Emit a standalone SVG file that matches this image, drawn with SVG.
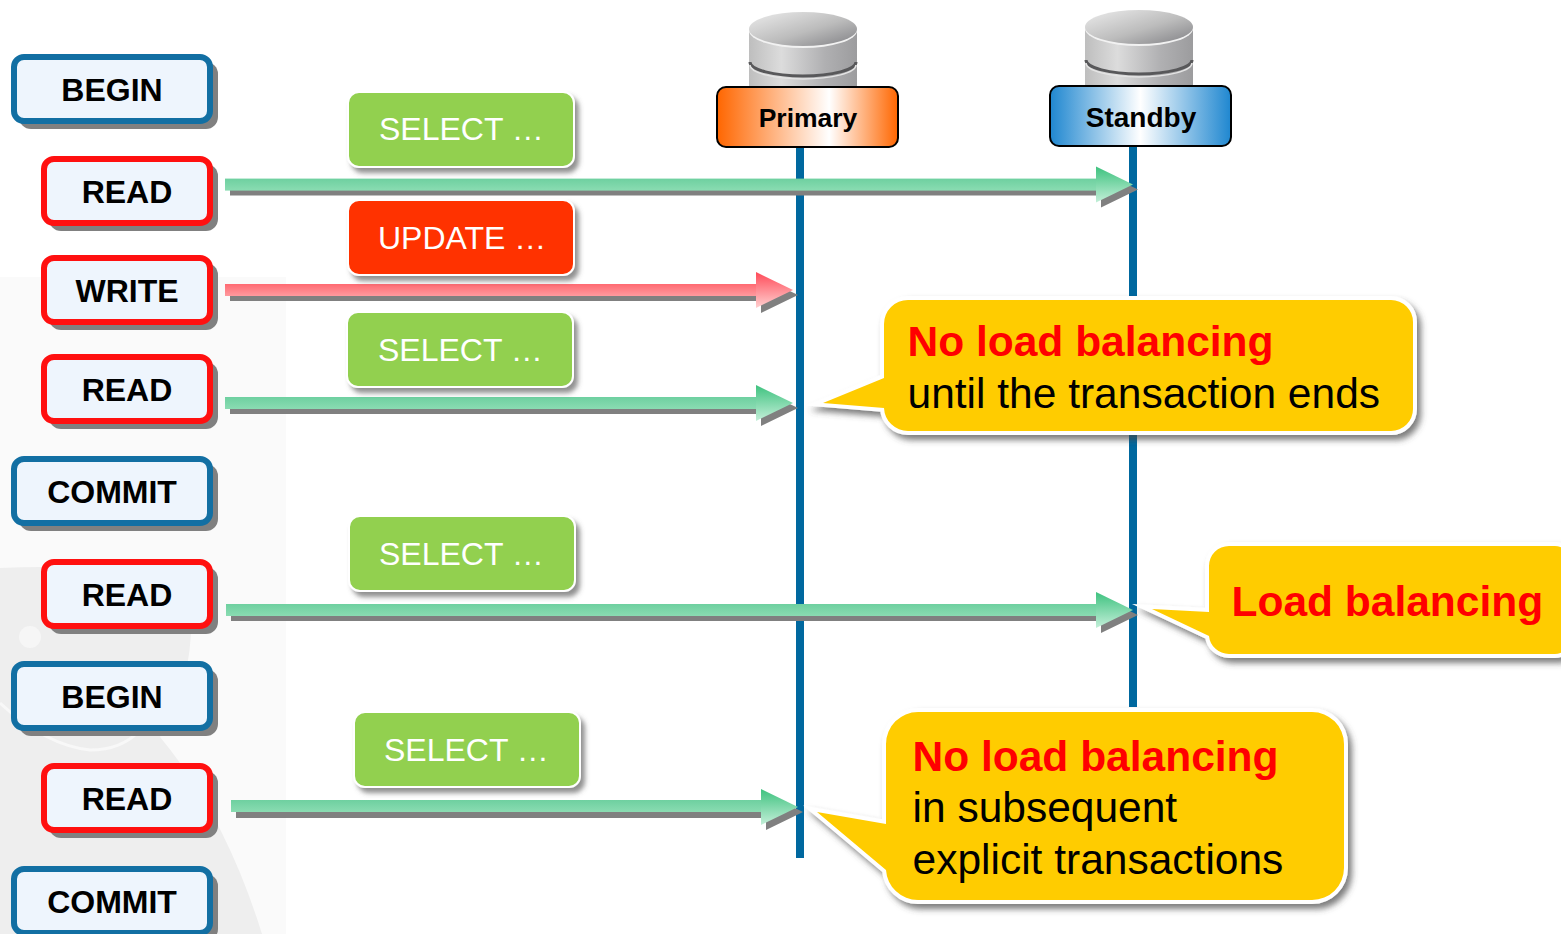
<svg xmlns="http://www.w3.org/2000/svg" width="1561" height="934" viewBox="0 0 1561 934">
<defs>
<style>
text{font-family:"Liberation Sans",Arial,sans-serif}
.tx{stroke-width:6;fill:#eef5fd;rx:10px}
.blue{stroke:#126fa3}
.red{stroke:#ff1010}
.sh{fill:#808080}
.lb{font-weight:700;font-size:32px;fill:#000;text-anchor:middle}
.hd{font-weight:700;fill:#000;text-anchor:middle}
.q{font-size:32px;fill:#fff}
.qb{stroke:#fff;stroke-width:2;filter:url(#soft)}
.life{stroke:#00689f;stroke-width:8;fill:none}
.ash{fill:#808080}
.call{fill:#ffcc00;stroke:#fff;stroke-width:8;paint-order:stroke;stroke-miterlimit:12;stroke-linejoin:miter;filter:url(#soft2)}
.c1{font-size:42.5px;font-weight:700;fill:#ff0000}
.c2{font-size:42.5px;fill:#000}
</style>
<linearGradient id="gs" x1="0" y1="0" x2="0" y2="1"><stop offset="0" stop-color="#6ed0a0"/><stop offset="1" stop-color="#8adcb2"/></linearGradient>
<linearGradient id="gh" x1="0" y1="0" x2="0" y2="1"><stop offset="0" stop-color="#3ec27f"/><stop offset="1" stop-color="#c4efd9"/></linearGradient>
<linearGradient id="rs" x1="0" y1="0" x2="0" y2="1"><stop offset="0" stop-color="#ff6a72"/><stop offset="1" stop-color="#ff9a9e"/></linearGradient>
<linearGradient id="rh" x1="0" y1="0" x2="0" y2="1"><stop offset="0" stop-color="#ff4a58"/><stop offset="1" stop-color="#ffd0d0"/></linearGradient>
<linearGradient id="gp"><stop offset="0" stop-color="#ff6600"/><stop offset=".62" stop-color="#ffffff"/><stop offset="1" stop-color="#ff6600"/></linearGradient>
<linearGradient id="gb"><stop offset="0" stop-color="#1f87d0"/><stop offset=".5" stop-color="#ffffff"/><stop offset="1" stop-color="#1f87d0"/></linearGradient>
<linearGradient id="cb"><stop offset="0" stop-color="#bebebe"/><stop offset=".3" stop-color="#dcdcdc"/><stop offset=".7" stop-color="#b0b0b2"/><stop offset="1" stop-color="#9c9c9e"/></linearGradient>
<linearGradient id="ct" x1="0" y1="0" x2="1" y2="1"><stop offset="0" stop-color="#ececec"/><stop offset=".55" stop-color="#bcbcbc"/><stop offset="1" stop-color="#808084"/></linearGradient>
<filter id="soft" x="-10%" y="-20%" width="125%" height="150%"><feDropShadow dx="4" dy="5" stdDeviation="2.5" flood-color="#555" flood-opacity=".65"/></filter>
<filter id="soft2" x="-10%" y="-15%" width="125%" height="135%"><feDropShadow dx="4" dy="5" stdDeviation="3" flood-color="#444" flood-opacity=".7"/></filter>
<g id="cyl">
<rect x="-54" y="0" width="108" height="62" fill="url(#cb)"/>
<path d="M-53 33A53 14 0 0 0 53 33" fill="none" stroke="#58585a" stroke-width="3"/>
<path d="M-53 36A53 14 0 0 0 53 36" fill="none" stroke="#e4e4e4" stroke-width="1.5"/>
<ellipse cx="0" cy="1.5" rx="54" ry="17.5" fill="#f2f2f2"/>
<ellipse cx="0" cy="0" rx="54" ry="17" fill="url(#ct)"/>
</g>
</defs>

<g id="background">
<rect width="1561" height="934" fill="#ffffff"/>
<rect x="0" y="277" width="286" height="657" fill="#fafafa"/>
<path d="M0 568Q120 562 190 590Q198 675 160 737Q225 815 262 934H0Z" fill="#eeeeee"/>
<path d="M0 703Q45 745 90 750Q122 750 140 730" fill="none" stroke="#f8f8f8" stroke-width="3"/>
<circle cx="30" cy="637" r="11" fill="#f6f6f6"/>
</g>

<g id="connectors">
<line id="life-primary" class="life" x1="800" y1="148" x2="800" y2="858"/>
<line id="life-standby" class="life" x1="1133" y1="147" x2="1133" y2="707"/>

<g id="arrow-read-1" transform="translate(0 .6)">
<path class="ash" d="M230 183H1101V171L1138 189L1101 207V195H230Z"/>
<path fill="url(#gh)" d="M1096 166L1133 184L1096 202Z"/><rect x="225" y="178" width="871" height="12" fill="url(#gs)"/>
</g>
<g id="arrow-write">
<path class="ash" d="M230 289H761V277L798 295L761 313V301H230Z"/>
<path fill="url(#rh)" d="M756 272L793 290L756 308Z"/><rect x="225" y="284" width="531" height="12" fill="url(#rs)"/>
</g>
<g id="arrow-read-2">
<path class="ash" d="M230 402H761V390L798 408L761 426V414H230Z"/>
<path fill="url(#gh)" d="M756 385L793 403L756 421Z"/><rect x="225" y="397" width="531" height="12" fill="url(#gs)"/>
</g>
<g id="arrow-read-3">
<path class="ash" d="M231 609H1101V597L1138 615L1101 633V621H231Z"/>
<path fill="url(#gh)" d="M1096 592L1133 610L1096 628Z"/><rect x="226" y="604" width="870" height="12" fill="url(#gs)"/>
</g>
<g id="arrow-read-4">
<path class="ash" d="M236 806H766V794L803 812L766 830V818H236Z"/>
<path fill="url(#gh)" d="M761 789L798 807L761 825Z"/><rect x="231" y="800" width="530" height="12" fill="url(#gs)"/>
</g>
</g>

<g id="primary">
<use href="#cyl" x="803" y="29"/>
<rect x="717" y="87" width="181" height="60" rx="9" fill="url(#gp)" stroke="#000" stroke-width="2"/>
<text class="hd" x="808" y="127" font-size="26.5">Primary</text>
</g>
<g id="standby">
<use href="#cyl" x="1139" y="27"/>
<rect x="1050" y="86" width="181" height="60" rx="9" fill="url(#gb)" stroke="#000" stroke-width="2"/>
<text class="hd" x="1141" y="127" font-size="28">Standby</text>
</g>

<g id="begin-1"><rect class="sh" x="19" y="62" width="199" height="67" rx="12"/><rect class="tx blue" x="14" y="57" width="196" height="64"/><text class="lb" x="112" y="101">BEGIN</text></g>
<g id="read-1"><rect class="sh" x="49" y="164" width="169" height="67" rx="12"/><rect class="tx red" x="44" y="159" width="166" height="64"/><text class="lb" x="127" y="203">READ</text></g>
<g id="write"><rect class="sh" x="49" y="263" width="169" height="67" rx="12"/><rect class="tx red" x="44" y="258" width="166" height="64"/><text class="lb" x="127" y="302">WRITE</text></g>
<g id="read-2"><rect class="sh" x="49" y="362" width="169" height="67" rx="12"/><rect class="tx red" x="44" y="357" width="166" height="64"/><text class="lb" x="127" y="401">READ</text></g>
<g id="commit-1"><rect class="sh" x="19" y="464" width="199" height="67" rx="12"/><rect class="tx blue" x="14" y="459" width="196" height="64"/><text class="lb" x="112" y="503">COMMIT</text></g>
<g id="read-3"><rect class="sh" x="49" y="567" width="169" height="67" rx="12"/><rect class="tx red" x="44" y="562" width="166" height="64"/><text class="lb" x="127" y="606">READ</text></g>
<g id="begin-2"><rect class="sh" x="19" y="669" width="199" height="67" rx="12"/><rect class="tx blue" x="14" y="664" width="196" height="64"/><text class="lb" x="112" y="708">BEGIN</text></g>
<g id="read-4"><rect class="sh" x="49" y="771" width="169" height="67" rx="12"/><rect class="tx red" x="44" y="766" width="166" height="64"/><text class="lb" x="127" y="810">READ</text></g>
<g id="commit-2"><rect class="sh" x="19" y="874" width="199" height="67" rx="12"/><rect class="tx blue" x="14" y="869" width="196" height="64"/><text class="lb" x="112" y="913">COMMIT</text></g>

<g id="select-1"><rect class="qb" x="348" y="92" width="226" height="75" rx="11" fill="#92d050"/><text class="q" x="379" y="140">SELECT …</text></g>
<g id="update"><rect class="qb" x="348" y="200" width="226" height="75" rx="11" fill="#ff3300"/><text class="q" x="378" y="249">UPDATE …</text></g>
<g id="select-2"><rect class="qb" x="347" y="312" width="226" height="75" rx="11" fill="#92d050"/><text class="q" x="378" y="361">SELECT …</text></g>
<g id="select-3"><rect class="qb" x="349" y="516" width="226" height="75" rx="11" fill="#92d050"/><text class="q" x="379" y="565">SELECT …</text></g>
<g id="select-4"><rect class="qb" x="354" y="712" width="226" height="75" rx="11" fill="#92d050"/><text class="q" x="384" y="761">SELECT …</text></g>

<g id="callout-1">
<path class="call" d="M908 300H1391A22 22 0 0 1 1413 322V409A22 22 0 0 1 1391 431H908A24 24 0 0 1 884 408L823 403L884 378V324A24 24 0 0 1 908 300Z"/>
<text class="c1" x="907.5" y="356">No load balancing</text>
<text class="c2" x="907.5" y="408">until the transaction ends</text>
</g>
<g id="callout-2">
<path class="call" d="M1229 546H1555A14 14 0 0 1 1569 560V640A14 14 0 0 1 1555 654H1229A20 20 0 0 1 1209 636L1152 609L1209 612V566A20 20 0 0 1 1229 546Z"/>
<text class="c1" x="1231.5" y="616">Load balancing</text>
</g>
<g id="callout-3">
<path class="call" d="M918 712H1312A32 32 0 0 1 1344 744V868A32 32 0 0 1 1312 900H918A32 32 0 0 1 886 870L817 812L886 824V744A32 32 0 0 1 918 712Z"/>
<text class="c1" x="912.5" y="771">No load balancing</text>
<text class="c2" x="912.5" y="822">in subsequent</text>
<text class="c2" x="912.5" y="874">explicit transactions</text>
</g>
</svg>
